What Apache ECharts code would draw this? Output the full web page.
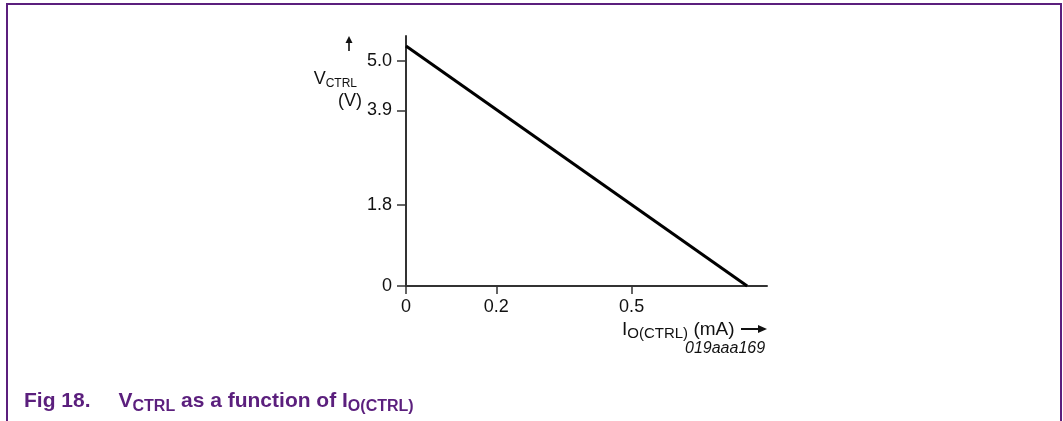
<!DOCTYPE html>
<html>
<head>
<meta charset="utf-8">
<script src="https://cdn.jsdelivr.net/npm/echarts@6/dist/echarts.min.js"></script>
<style>html,body{margin:0;padding:0;background:#fff}#c{width:1063px;height:421px}</style>
</head>
<body>
<div id="c"></div>
<script>
// Data
const currentMA = [0, 0.756];
const voltageV = [5.33, 0];
const xTicks = [0, 0.2, 0.5];
const yTicks = [0, 1.8, 3.9, 5.0];
const xTickLabels = ['0', '0.2', '0.5'];
const yTickLabels = ['0', '1.8', '3.9', '5.0'];

const purple = '#5b1f7d';
const axisColor = '#333';
const ink = '#111';
const font = 'Liberation Sans, Arial, sans-serif';

const chart = echarts.init(document.getElementById('c'), null, {renderer: 'canvas'});
const lineData = currentMA.map((x, i) => [x, voltageV[i]]);

chart.setOption({
  animation: false,
  backgroundColor: '#fff',
  grid: {left: 406, right: 296, top: 36, bottom: 135},
  xAxis: {
    type: 'value', min: 0, max: 0.8,
    axisLine: {show: true, onZero: false, lineStyle: {color: axisColor, width: 2}},
    axisTick: {show: true, customValues: xTicks, length: 8, lineStyle: {color: axisColor, width: 1.5}},
    axisLabel: {customValues: xTicks, margin: 12, color: ink, fontSize: 18, fontFamily: font,
      formatter: v => xTickLabels[xTicks.findIndex(t => Math.abs(t - v) < 1e-9)]},
    splitLine: {show: false}
  },
  yAxis: {
    type: 'value', min: 0, max: 5.55,
    axisLine: {show: true, onZero: false, lineStyle: {color: axisColor, width: 2}},
    axisTick: {show: true, customValues: yTicks, length: 9, lineStyle: {color: axisColor, width: 1.5}},
    axisLabel: {customValues: yTicks, margin: 14, color: ink, fontSize: 18, fontFamily: font,
      formatter: v => yTickLabels[yTicks.findIndex(t => Math.abs(t - v) < 1e-9)]},
    splitLine: {show: false}
  },
  series: [{
    type: 'line', data: lineData, showSymbol: false, symbol: 'none',
    lineStyle: {color: '#000', width: 3}, clip: false
  }],
  graphic: [
    {type: 'polyline', shape: {points: [[7, 421], [7, 4], [1061, 4], [1061, 421]]},
      style: {stroke: purple, lineWidth: 2, fill: null}},
    // y-axis name arrow
    {type: 'line', shape: {x1: 349, y1: 51, x2: 349, y2: 40}, style: {stroke: ink, lineWidth: 1.6}},
    {type: 'polygon', shape: {points: [[349, 36], [345.5, 43], [352.5, 43]]}, style: {fill: ink}},
    {type: 'text', right: 1063 - 357, top: 70, style: {
      text: '{a|V}{b|CTRL}', fontFamily: font, fill: ink,
      rich: {a: {fontSize: 18, fontFamily: font, fill: ink}, b: {fontSize: 12, fontFamily: font, fill: ink, padding: [9, 0, 0, 0]}}}},
    {type: 'text', left: 338, top: 92, style: {text: '(V)', fontSize: 18, fontFamily: font, fill: ink}},
    // x-axis name
    {type: 'text', left: 622, top: 320, style: {
      text: '{a|I}{b|O(CTRL)}{a| (mA)}', fontFamily: font, fill: ink,
      rich: {a: {fontSize: 19, fontFamily: font, fill: ink}, b: {fontSize: 15, fontFamily: font, fill: ink, padding: [9, 0, 0, 0]}}}},
    {type: 'line', shape: {x1: 741, y1: 329, x2: 760, y2: 329}, style: {stroke: ink, lineWidth: 2}},
    {type: 'polygon', shape: {points: [[767, 329], [758, 325], [758, 333]]}, style: {fill: ink}},
    {type: 'text', left: 685, top: 341, style: {text: '019aaa169', fontSize: 16, fontStyle: 'italic', fontFamily: font, fill: ink}},
    // caption
    {type: 'text', left: 24, top: 391, style: {
      text: '{a|Fig 18.}{g|}{a|V}{b|CTRL}{a| as a function of I}{b|O(CTRL)}', fontFamily: font,
      rich: {a: {fontSize: 21, fontWeight: 'bold', fontFamily: font, fill: purple},
             g: {width: 28},
             b: {fontSize: 16, fontWeight: 'bold', fontFamily: font, fill: purple, padding: [10, 0, 0, 0]}}}}
  ]
});
</script>
</body>
</html>
